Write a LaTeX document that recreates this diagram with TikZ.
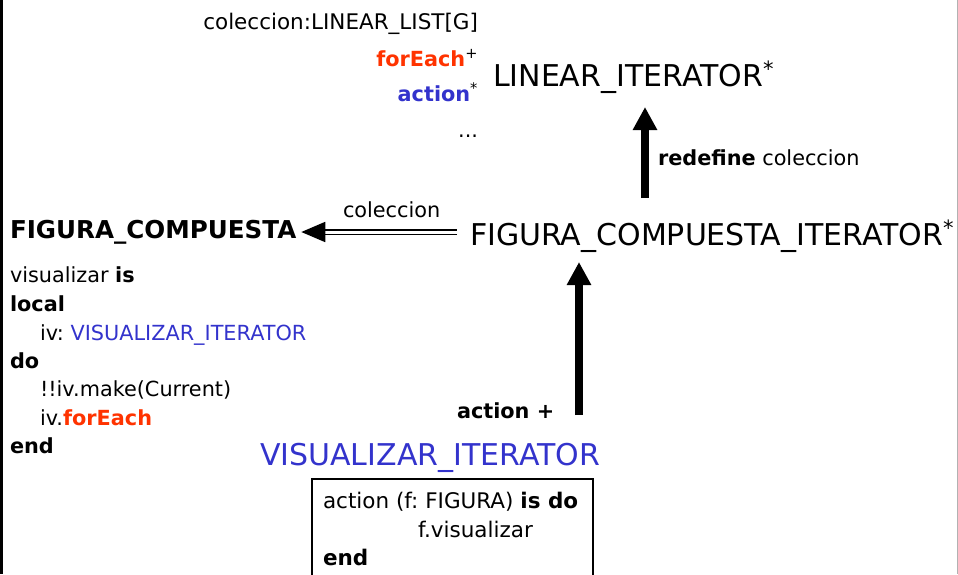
\documentclass[tikz,border=0pt]{standalone}
\usepackage{fontspec}
\setmainfont{DejaVu Sans}
\frenchspacing
\usetikzlibrary{arrows.meta,calc}
\definecolor{kred}{RGB}{255,51,0}
\definecolor{kblue}{RGB}{51,51,204}
\tikzset{
  txt/.style={inner sep=0pt, outer sep=0pt, font=\fontsize{20.8}{24}\selectfont},
  big/.style={inner sep=0pt, outer sep=0pt, font=\fontsize{30}{36}\selectfont},
  bigarrow/.style={line width=8pt, -{Triangle[width=23pt,length=23pt]}},
}
\begin{document}
\begin{tikzpicture}[x=1pt,y=-1pt]
\useasboundingbox (0,0) rectangle (958,574);
\draw[line width=3pt] (1.5,0) -- (1.5,574);
\draw[line width=1pt, black!30] (957,0) -- (957,574);

% top-left list
\node[txt, anchor=base east, font=\fontsize{21.5}{24}\selectfont] (coll) at (478,29) {coleccion:LINEAR\_LIST[G]};
\node[txt, anchor=base east] (fe) at (478,66) {\textcolor{kred}{\bfseries forEach}\textsuperscript{+}};
\node[txt, anchor=base east] (ac) at (478,101) {\textcolor{kblue}{\bfseries action}\textsuperscript{*}};
\node[txt, anchor=base east] (dots) at (478,137) {...};

\node[big, anchor=base west] (LI) at (493,86) {LINEAR\_ITERATOR\textsuperscript{*}};
\node[big, anchor=base west] (FCI) at (470,245) {FIGURA\_COMPUESTA\_ITERATOR\textsuperscript{*}};
\node[txt, anchor=base west, font=\fontsize{24.6}{28}\selectfont\bfseries] (FC) at (10,238) {FIGURA\_COMPUESTA};
\node[big, anchor=base west, text=kblue] (VI) at (260,465) {VISUALIZAR\_ITERATOR};

% arrows
\coordinate (a1s) at (645,198);
\draw[bigarrow] (a1s) -- ($(a1s |- LI.base)+(0,21)$);
\node[txt, anchor=base west] (redef) at (658,165) {\textbf{redefine} coleccion};

\coordinate (a2s) at (579,415);
\draw[bigarrow] (a2s) -- ($(a2s |- FCI.base)+(0,17)$);
\node[txt, anchor=base west] (actp) at (457,418) {\textbf{action +}};

\draw[double, double distance=3pt, line width=1.8pt, -{Triangle[width=20pt,length=24pt]}] ($(FCI.base west)+(-13,-13)$) -- ($(FC.base east |- FCI.base west)+(5,-13)$);
\node[txt, anchor=base west] (collab) at (343,217) {coleccion};

% code
\node[txt, anchor=base west] (l1) at (10,282) {visualizar \textbf{is}};
\node[txt, anchor=base west] (l2) at (10,311) {\textbf{local}};
\node[txt, anchor=base west] (l3) at (40,340) {iv: \textcolor{kblue}{VISUALIZAR\_ITERATOR}};
\node[txt, anchor=base west] (l4) at (10,368) {\textbf{do}};
\node[txt, anchor=base west] (l5) at (40,396) {!!iv.make(Current)};
\node[txt, anchor=base west] (l6) at (40,425) {iv.\textcolor{kred}{\bfseries forEach}};
\node[txt, anchor=base west] (l7) at (10,453) {\textbf{end}};

% box
\draw[line width=2pt] (312,600) -- (312,479) -- (593,479) -- (593,600);
\node[txt, anchor=base west, font=\fontsize{21.5}{24}\selectfont] (b1) at (323,508) {action (f: FIGURA) \textbf{is do}};
\node[txt, anchor=base west, font=\fontsize{21.5}{24}\selectfont] (b2) at (418,537) {f.visualizar};
\node[txt, anchor=base west, font=\fontsize{21.5}{24}\selectfont] (b3) at (323,565) {\textbf{end}};
\end{tikzpicture}
\end{document}
